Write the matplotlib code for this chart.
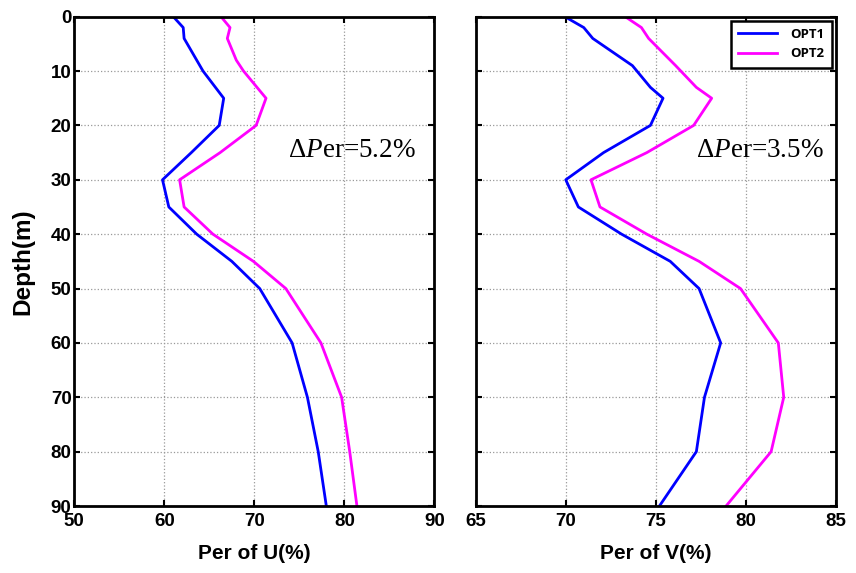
import matplotlib
matplotlib.use('Agg')
import matplotlib.pyplot as plt

# depths (m) and percentages
depth = [0, 2, 4, 8, 10, 15, 20, 25, 30, 35, 40, 45, 50, 60, 70, 80, 90]

u_opt1 = [61.0, 62.1, 62.2, 63.6, 64.3, 66.6, 66.1, 63.0, 59.8, 60.5, 63.6, 67.5, 70.6, 74.2, 75.9, 77.1, 78.0]
u_opt2 = [66.3, 67.3, 67.0, 68.0, 68.8, 71.3, 70.2, 66.2, 61.7, 62.2, 65.4, 69.9, 73.5, 77.4, 79.7, 80.6, 81.4]

v_depth = [0, 2, 4, 9, 13, 15, 20, 25, 30, 35, 40, 45, 50, 60, 70, 80, 90]
v_opt1 = [69.95, 71.0, 71.5, 73.7, 74.7, 75.4, 74.7, 72.1, 70.0, 70.7, 73.1, 75.8, 77.4, 78.6, 77.7, 77.25, 75.2]
v_opt2 = [73.3, 74.2, 74.6, 76.1, 77.25, 78.1, 77.1, 74.5, 71.4, 71.9, 74.5, 77.4, 79.7, 81.8, 82.1, 81.4, 78.9]

u_ticks = [50, 60, 70, 80, 90]
v_ticks = [65, 70, 75, 80, 85]
depth_ticks = [0, 10, 20, 30, 40, 50, 60, 70, 80, 90]

plt.rcParams['mathtext.fontset'] = 'custom'
plt.rcParams['mathtext.rm'] = 'Liberation Serif'
plt.rcParams['mathtext.it'] = 'Liberation Serif:italic'

tick_font = dict(family=['Liberation Sans', 'DejaVu Sans'], weight='bold', size=13.5)
label_font = dict(family=['Liberation Sans', 'DejaVu Sans'], weight='bold', size=15)

fig = plt.figure(figsize=(8.56, 5.73), dpi=100)
ax1 = fig.add_axes([0.0868, 0.1169, 0.4206, 0.854])
ax2 = fig.add_axes([0.5557, 0.1169, 0.4209, 0.854])


def style_axis(ax, xticks, show_y):
    ax.set_ylim(90, 0)
    ax.set_xlim(xticks[0], xticks[-1])
    ax.set_xticks(xticks)
    ax.set_yticks(depth_ticks)
    ax.grid(True, linestyle=':', color='#999999', linewidth=0.9)
    ax.tick_params(direction='in', length=4, width=1.5, top=True, right=True, pad=2)
    ax.tick_params(axis='x', pad=5)
    for s in ax.spines.values():
        s.set_linewidth(2)
        s.set_color('black')
    ax.set_xticklabels([str(t) for t in xticks], **tick_font)
    if show_y:
        ax.set_yticklabels([str(t) for t in depth_ticks], **tick_font)
    else:
        ax.set_yticklabels([])


ax1.plot(u_opt1, depth, color='#0000ff', linewidth=2)
ax1.plot(u_opt2, depth, color='#ff00ff', linewidth=2)
style_axis(ax1, u_ticks, True)
ax1.set_xlabel('Per of U(%)', **label_font)
ax1.xaxis.set_label_coords(0.5, -0.078)
ax1.set_ylabel('Depth(m)', family=['Liberation Sans', 'DejaVu Sans'],
               weight='bold', size=17.5)
ax1.yaxis.set_label_coords(-0.112, 0.5)
ax1.text(73.7, 25.8, r'$\Delta\mathit{P}$er=5.2%', family='Liberation Serif',
         fontsize=19.5, va='baseline', ha='left')

ax2.plot(v_opt1, v_depth, color='#0000ff', linewidth=2, label='OPT1')
ax2.plot(v_opt2, v_depth, color='#ff00ff', linewidth=2, label='OPT2')
style_axis(ax2, v_ticks, False)
ax2.set_xlabel('Per of V(%)', **label_font)
ax2.xaxis.set_label_coords(0.5, -0.078)
ax2.text(77.25, 25.8, r'$\Delta\mathit{P}$er=3.5%', family='Liberation Serif',
         fontsize=19.5, va='baseline', ha='left')

leg = ax2.legend(loc='upper right', fancybox=False, framealpha=1, edgecolor='black',
                 prop=dict(family=['Open Sans', 'DejaVu Sans'], weight='bold', size=9.5),
                 handlelength=3.0, handletextpad=1.0, borderaxespad=0.3, borderpad=0.55,
                 labelspacing=0.5)
leg.get_frame().set_linewidth(1.8)

fig.savefig('out.png', dpi=100)
